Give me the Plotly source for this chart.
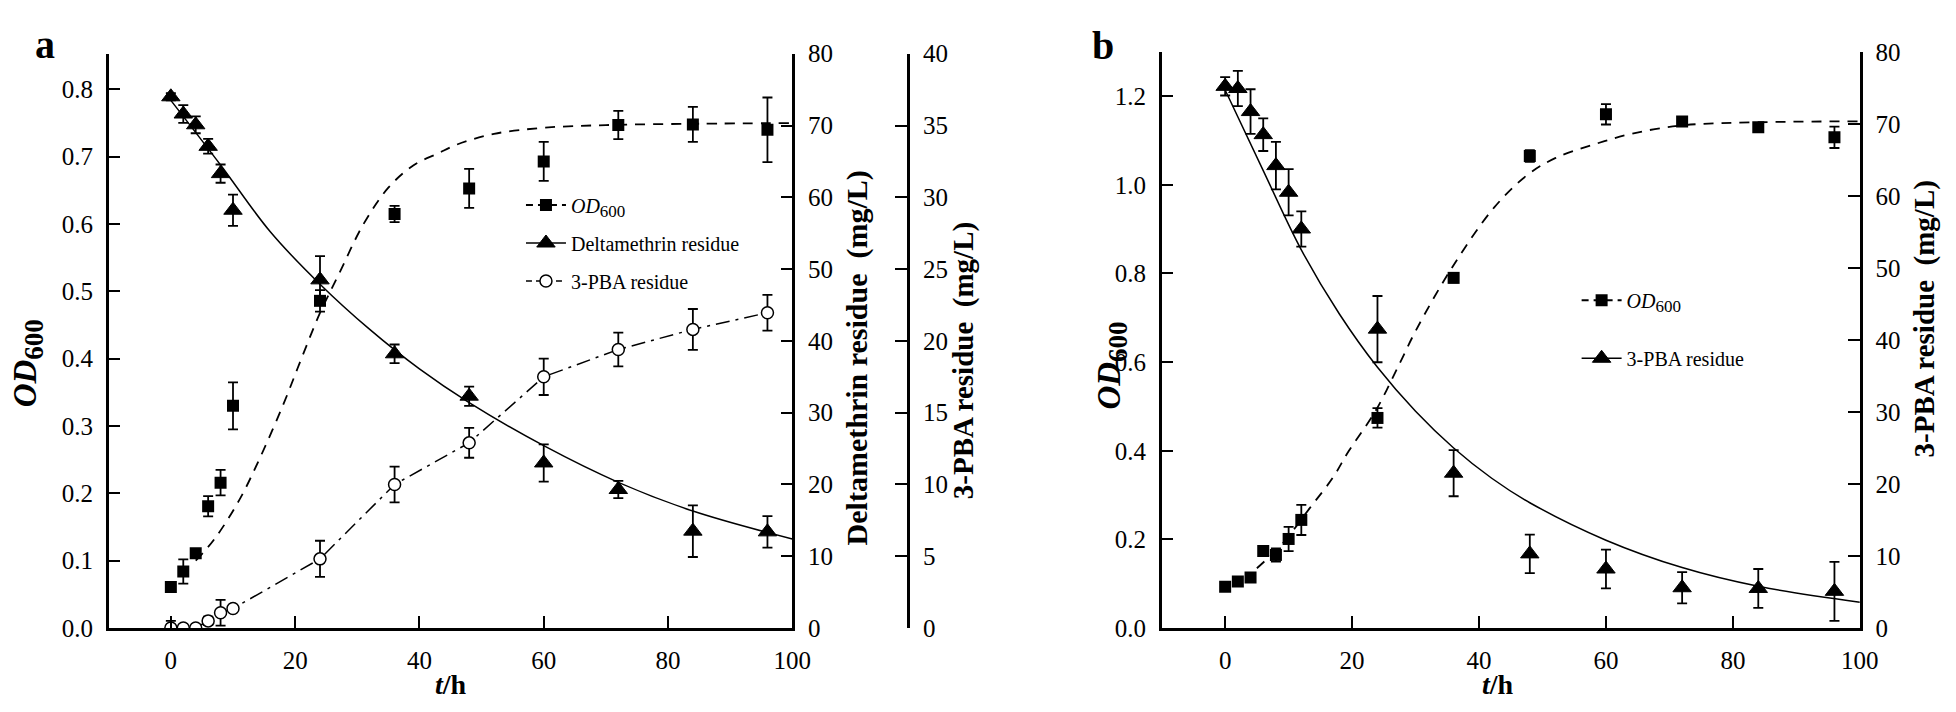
import plotly.graph_objects as go

W, H = 1956, 712

# ---------------- Panel a data ----------------
t_a = [0, 2, 4, 6, 8, 10, 24, 36, 48, 60, 72, 84, 96]
od_a = [0.061, 0.084, 0.111, 0.181, 0.216, 0.330, 0.486, 0.615, 0.653, 0.693, 0.747, 0.748, 0.740]
od_a_err = [0.005, 0.018, 0.005, 0.015, 0.019, 0.035, 0.016, 0.012, 0.029, 0.029, 0.021, 0.026, 0.048]
delta_a = [74.0, 71.6, 70.1, 67.1, 63.3, 58.2, 48.5, 38.2, 32.3, 23.0, 19.3, 13.5, 13.4]
delta_a_err = [0.5, 1.23, 1.18, 1.03, 1.27, 2.17, 3.3, 1.3, 1.34, 2.6, 1.2, 3.6, 2.2]
pba_a = [0, 0, 0, 0.5, 1.07, 1.36, 4.82, 10.0, 12.9, 17.5, 19.4, 20.8, 21.96]
pba_a_err = [0.5, 0, 0, 0.3, 0.9, 0.22, 1.26, 1.24, 1.04, 1.27, 1.17, 1.42, 1.25]

od_fit_a_t = [4, 7, 11, 14.4, 18, 21, 24, 27, 31, 35, 39, 43, 46, 52, 60, 70, 85, 100]
od_fit_a = [0.100, 0.132, 0.190, 0.254, 0.330, 0.400, 0.468, 0.525, 0.600, 0.654, 0.687,
            0.705, 0.718, 0.734, 0.743, 0.747, 0.749, 0.750]
delta_fit_t = [0, 8, 16, 24, 32, 40, 48, 60, 72, 84, 100]
delta_fit = [73.5, 64.5, 55.2, 47.9, 41.6, 36.1, 31.4, 25.4, 20.3, 16.3, 12.4]

# ---------------- Panel b data ----------------
t_b = [0, 2, 4, 6, 8, 10, 12, 24, 36, 48, 60, 72, 84, 96]
od_b = [0.093, 0.105, 0.114, 0.174, 0.165, 0.201, 0.244, 0.474, 0.790, 1.065, 1.159, 1.143, 1.130, 1.107]
od_b_err = [0.005, 0.005, 0.005, 0.005, 0.015, 0.0275, 0.034, 0.022, 0.01, 0.013, 0.023, 0.008, 0.006, 0.024]
pba_b = [75.2, 74.9, 71.7, 68.5, 64.2, 60.5, 55.4, 41.5, 21.5, 10.3, 8.2, 5.6, 5.5, 5.1]
pba_b_err = [1.27, 2.45, 3.1, 2.27, 3.3, 3.2, 2.45, 4.6, 3.2, 2.67, 2.7, 2.16, 2.7, 4.1]

od_fit_b_t = [5, 9, 13.3, 17, 19.5, 23.7, 27.6, 30, 35.6, 42.4, 47.6, 52, 57.9, 64, 72, 84, 100]
od_fit_b = [0.135, 0.19, 0.27, 0.34, 0.40, 0.49, 0.60, 0.67, 0.81, 0.949, 1.022, 1.06, 1.09,
            1.115, 1.134, 1.141, 1.143]
pba_fit_b_t = [0, 6, 12, 18, 24, 30, 36, 42, 48, 60, 72, 84, 100]
pba_fit_b = [74.7, 63.5, 52.5, 43.6, 36.2, 30.1, 25.0, 20.8, 17.4, 12.2, 8.4, 5.8, 3.6]

x_ticks = [0, 20, 40, 60, 80, 100]

FONT = "Liberation Serif, Times New Roman, serif"
BLK = "black"
SP = "\u00a0\u00a0"


def px(x):
    return x / W


def py(y):
    return 1 - y / H


def err(arr):
    return dict(type="data", array=arr, visible=True, color=BLK, thickness=1.8, width=5)


TRI = dict(symbol="triangle-up", size=16, color=BLK, line=dict(color=BLK, width=1))
SQ = dict(symbol="square", size=12, color=BLK)
CIR = dict(symbol="circle", size=12, color="white", line=dict(color=BLK, width=1.5))

fig = go.Figure()

# ---- panel a traces ----
fig.add_trace(go.Scatter(x=od_fit_a_t, y=od_fit_a, mode="lines", line=dict(color=BLK, width=1.8, dash="10px,8px", shape="spline"),
                         xaxis="x", yaxis="y", showlegend=False, hoverinfo="skip"))
fig.add_trace(go.Scatter(x=t_a, y=od_a, mode="markers", marker=SQ,
                         error_y=err(od_a_err), xaxis="x", yaxis="y", showlegend=False))
fig.add_trace(go.Scatter(x=delta_fit_t, y=delta_fit, mode="lines", line=dict(color=BLK, width=1.5, shape="spline"),
                         xaxis="x", yaxis="y2", showlegend=False, hoverinfo="skip"))
fig.add_trace(go.Scatter(x=t_a, y=delta_a, mode="markers", marker=TRI,
                         error_y=err(delta_a_err), xaxis="x", yaxis="y2", showlegend=False))
fig.add_trace(go.Scatter(x=t_a, y=pba_a, mode="lines+markers", line=dict(color=BLK, width=1.5, dash="14px,6px,3px,6px"),
                         marker=CIR, error_y=err(pba_a_err), xaxis="x", yaxis="y3", showlegend=False))

# legend samples for panel a (no data)
fig.add_trace(go.Scatter(x=[None], y=[None], mode="lines+markers",
                         name="<i>OD</i><sub><span style='font-size:17px'>600</span></sub>",
                         line=dict(color=BLK, width=1.8, dash="7px,5px"), marker=SQ,
                         xaxis="x", yaxis="y", legend="legend", legendgroup="a1"))
fig.add_trace(go.Scatter(x=[None], y=[None], mode="lines+markers", name="Deltamethrin residue",
                         line=dict(color=BLK, width=1.5), marker=TRI,
                         xaxis="x", yaxis="y", legend="legend", legendgroup="a2"))
fig.add_trace(go.Scatter(x=[None], y=[None], mode="lines+markers", name="3-PBA residue",
                         line=dict(color=BLK, width=1.5, dash="6px,4px"), marker=CIR,
                         xaxis="x", yaxis="y", legend="legend", legendgroup="a3"))

# ---- panel b traces ----
fig.add_trace(go.Scatter(x=od_fit_b_t, y=od_fit_b, mode="lines", line=dict(color=BLK, width=1.8, dash="10px,8px", shape="spline"),
                         xaxis="x2", yaxis="y4", showlegend=False, hoverinfo="skip"))
fig.add_trace(go.Scatter(x=t_b, y=od_b, mode="markers", marker=SQ,
                         error_y=err(od_b_err), xaxis="x2", yaxis="y4", showlegend=False))
fig.add_trace(go.Scatter(x=pba_fit_b_t, y=pba_fit_b, mode="lines", line=dict(color=BLK, width=1.5, shape="spline"),
                         xaxis="x2", yaxis="y5", showlegend=False, hoverinfo="skip"))
fig.add_trace(go.Scatter(x=t_b, y=pba_b, mode="markers", marker=TRI,
                         error_y=err(pba_b_err), xaxis="x2", yaxis="y5", showlegend=False))

fig.add_trace(go.Scatter(x=[None], y=[None], mode="lines+markers",
                         name="<i>OD</i><sub><span style='font-size:17px'>600</span></sub>",
                         line=dict(color=BLK, width=1.8, dash="7px,5px"), marker=SQ,
                         xaxis="x2", yaxis="y4", legend="legend2", legendgroup="b1"))
fig.add_trace(go.Scatter(x=[None], y=[None], mode="lines+markers", name="3-PBA residue",
                         line=dict(color=BLK, width=1.5), marker=TRI,
                         xaxis="x2", yaxis="y4", legend="legend2", legendgroup="b2"))

tickfont = dict(family=FONT, size=25, color=BLK)
common = dict(showline=True, linecolor=BLK, linewidth=2.5, ticks="inside", ticklen=12, tickwidth=2,
              tickcolor=BLK, tickfont=tickfont, showgrid=False, zeroline=False, ticklabelstandoff=8)

ya_dom = [py(631), py(34)]
yb_dom = [py(631), py(32)]

fig.update_layout(
    width=W, height=H, margin=dict(l=0, r=0, t=0, b=0),
    paper_bgcolor="white", plot_bgcolor="white",
    font=dict(family=FONT, color=BLK),
    xaxis=dict(domain=[px(101.7), px(792)], range=[-10, 100], tickvals=x_ticks, anchor="y", **common),
    yaxis=dict(domain=ya_dom, range=[0, 0.853], tickvals=[0, 0.1, 0.2, 0.3, 0.4, 0.5, 0.6, 0.7, 0.8],
               tickformat=".1f", anchor="x", **common),
    yaxis2=dict(domain=ya_dom, range=[0, 80], dtick=10, overlaying="y", side="right", anchor="x", **common),
    yaxis3=dict(domain=ya_dom, range=[0, 40], dtick=5, overlaying="y", side="right", anchor="free",
                position=px(909), **common),
    xaxis2=dict(domain=[px(1165), px(1870)], range=[-10, 100], tickvals=x_ticks, anchor="y4", **common),
    yaxis4=dict(domain=yb_dom, range=[0, 1.3], tickvals=[0, 0.2, 0.4, 0.6, 0.8, 1.0, 1.2],
                tickformat=".1f", anchor="x2", **common),
    yaxis5=dict(domain=yb_dom, range=[0, 80], dtick=10, overlaying="y4", side="right", anchor="x2", **common),
    legend=dict(x=px(518), y=py(171), xanchor="left", yanchor="top", bgcolor="rgba(0,0,0,0)",
                font=dict(family=FONT, size=20, color=BLK), traceorder="grouped", tracegroupgap=9,
                itemwidth=40),
    legend2=dict(x=px(1584), y=py(270), xanchor="left", yanchor="top", bgcolor="rgba(0,0,0,0)",
                 font=dict(family=FONT, size=20, color=BLK), traceorder="grouped", tracegroupgap=29,
                 itemwidth=40),
)

ann = []


def add_text(x, y, text, size, angle=0):
    ann.append(dict(x=px(x), y=py(y), xref="paper", yref="paper", text=text, showarrow=False,
                    textangle=angle, xanchor="center", yanchor="middle",
                    font=dict(family=FONT, size=size, color=BLK)))


OD_TITLE = "<b><i>OD</i><sub><span style='font-size:27px'>600</span></sub></b>"
add_text(37, 24, "<b>a</b>", 40)
add_text(1106, 25, "<b>b</b>", 40)
add_text(20, 356, OD_TITLE, 33, -90)
add_text(1115, 358, OD_TITLE, 33, -90)
add_text(447, 690, "<b><i>t</i>/h</b>", 28)
add_text(1505, 690, "<b><i>t</i>/h</b>", 28)
add_text(857, 350, "<b>Deltamethrin residue" + SP + "(mg/L)</b>", 30, -90)
add_text(965, 353, "<b>3-PBA residue" + SP + "(mg/L)</b>", 29, -90)
add_text(1935, 310, "<b>3-PBA residue" + SP + "(mg/L)</b>", 29, -90)

fig.update_layout(annotations=ann)

fig.write_html("out.html")
